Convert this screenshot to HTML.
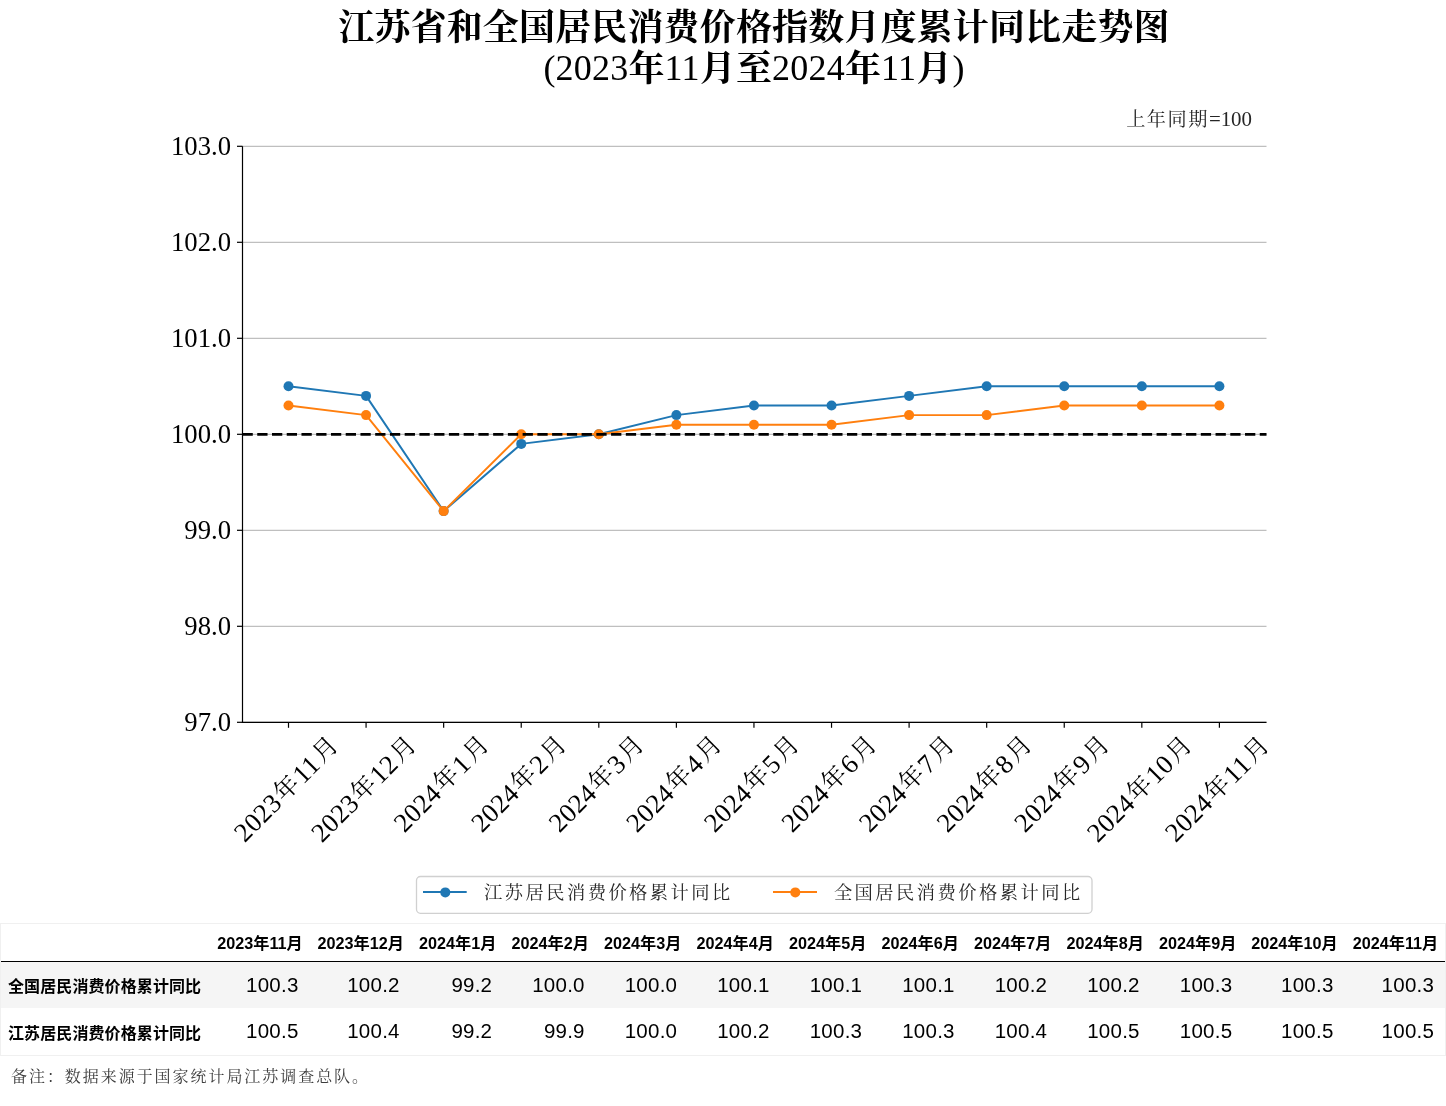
<!DOCTYPE html>
<html lang="zh-CN">
<head>
<meta charset="utf-8">
<title>江苏省和全国居民消费价格指数月度累计同比走势图</title>
<style>
html,body{margin:0;padding:0;background:#fff;}
body{width:1446px;height:1106px;position:relative;overflow:hidden;font-family:"Liberation Sans","Noto Sans CJK SC",sans-serif;}
.title{position:absolute;left:0;width:1508px;top:0;text-align:center;font-family:"Liberation Serif","Noto Serif CJK SC",serif;font-weight:bold;font-size:36px;line-height:41px;color:#000;white-space:nowrap;}
.title .l1{position:absolute;left:0;width:1508px;top:7.5px;letter-spacing:0.15px;}
.title .l2{position:absolute;left:0;width:1508px;top:49px;letter-spacing:0.2px;}
.title .l2 i{font-style:normal;font-weight:normal;position:relative;top:-1px;}
svg text{font-family:"Liberation Serif","Noto Serif CJK SC",serif;}
.tk{font-size:26.7px;fill:#000;}
.xl{font-size:26.7px;fill:#000;letter-spacing:0.3px;}
.ann{font-size:20.9px;fill:#262626;font-weight:400;}
.xl .cj{font-size:24.6px;letter-spacing:1.8px;}
.ann .cj{font-size:19.2px;letter-spacing:1.5px;}
.lg{font-size:18.3px;fill:#262626;letter-spacing:2.45px;font-weight:400;}
.tbl{position:absolute;left:0;top:923px;width:1446px;}
.row{display:flex;white-space:nowrap;box-sizing:border-box;}
.row>div{box-sizing:border-box;flex:none;text-align:right;}
.row.hd{height:39px;border-bottom:1px solid #000;font-size:16.2px;font-weight:bold;line-height:38px;padding-top:1px;}
.row.hd .h{padding-right:7.7px;}
.row.r1{height:46px;background:#f5f5f5;line-height:46px;}
.row.r2{height:47px;line-height:47px;}
.row .v{font-size:20.5px;letter-spacing:0.25px;padding-right:11.8px;}
.row.r2 .v{position:relative;top:-1.5px;}
.row.r1 .c0{position:relative;top:2px;}
.row.r2 .c0{position:relative;top:1.5px;}
.row.r1 .c0,.row.r2 .c0{text-align:left;font-size:16px;font-weight:bold;padding-left:8px;letter-spacing:0.1px;}
.frame{position:absolute;left:0;top:923px;width:1446px;height:133px;border:1px solid #f0f0f0;box-sizing:border-box;pointer-events:none;}
.note{position:absolute;left:11px;top:1063.7px;font-family:"Liberation Serif","Noto Serif CJK SC",serif;font-size:16px;letter-spacing:1.95px;color:#3c3c3c;font-weight:400;white-space:nowrap;}
</style>
</head>
<body>
<div class="title"><div class="l1">江苏省和全国居民消费价格指数月度累计同比走势图</div><div class="l2"><i>(2023</i>年<i>11</i>月至<i>2024</i>年<i>11</i>月<i>)</i></div></div>
<svg width="1446" height="920" viewBox="0 0 1446 920" style="position:absolute;left:0;top:0">
<line x1="242.5" x2="1266.5" y1="722.30" y2="722.30" stroke="#b0b0b0" stroke-width="1"/>
<line x1="242.5" x2="1266.5" y1="626.30" y2="626.30" stroke="#b0b0b0" stroke-width="1"/>
<line x1="242.5" x2="1266.5" y1="530.30" y2="530.30" stroke="#b0b0b0" stroke-width="1"/>
<line x1="242.5" x2="1266.5" y1="434.30" y2="434.30" stroke="#b0b0b0" stroke-width="1"/>
<line x1="242.5" x2="1266.5" y1="338.30" y2="338.30" stroke="#b0b0b0" stroke-width="1"/>
<line x1="242.5" x2="1266.5" y1="242.30" y2="242.30" stroke="#b0b0b0" stroke-width="1"/>
<line x1="242.5" x2="1266.5" y1="146.30" y2="146.30" stroke="#b0b0b0" stroke-width="1"/>
<polyline points="288.50,386.30 366.07,395.90 443.65,511.10 521.23,443.90 598.80,434.30 676.38,415.10 753.95,405.50 831.53,405.50 909.10,395.90 986.68,386.30 1064.25,386.30 1141.83,386.30 1219.40,386.30" fill="none" stroke="#1f77b4" stroke-width="1.95" stroke-linejoin="round"/><circle cx="288.50" cy="386.30" r="5" fill="#1f77b4"/><circle cx="366.07" cy="395.90" r="5" fill="#1f77b4"/><circle cx="443.65" cy="511.10" r="5" fill="#1f77b4"/><circle cx="521.23" cy="443.90" r="5" fill="#1f77b4"/><circle cx="598.80" cy="434.30" r="5" fill="#1f77b4"/><circle cx="676.38" cy="415.10" r="5" fill="#1f77b4"/><circle cx="753.95" cy="405.50" r="5" fill="#1f77b4"/><circle cx="831.53" cy="405.50" r="5" fill="#1f77b4"/><circle cx="909.10" cy="395.90" r="5" fill="#1f77b4"/><circle cx="986.68" cy="386.30" r="5" fill="#1f77b4"/><circle cx="1064.25" cy="386.30" r="5" fill="#1f77b4"/><circle cx="1141.83" cy="386.30" r="5" fill="#1f77b4"/><circle cx="1219.40" cy="386.30" r="5" fill="#1f77b4"/>
<polyline points="288.50,405.50 366.07,415.10 443.65,511.10 521.23,434.30 598.80,434.30 676.38,424.70 753.95,424.70 831.53,424.70 909.10,415.10 986.68,415.10 1064.25,405.50 1141.83,405.50 1219.40,405.50" fill="none" stroke="#ff7f0e" stroke-width="1.95" stroke-linejoin="round"/><circle cx="288.50" cy="405.50" r="5" fill="#ff7f0e"/><circle cx="366.07" cy="415.10" r="5" fill="#ff7f0e"/><circle cx="443.65" cy="511.10" r="5" fill="#ff7f0e"/><circle cx="521.23" cy="434.30" r="5" fill="#ff7f0e"/><circle cx="598.80" cy="434.30" r="5" fill="#ff7f0e"/><circle cx="676.38" cy="424.70" r="5" fill="#ff7f0e"/><circle cx="753.95" cy="424.70" r="5" fill="#ff7f0e"/><circle cx="831.53" cy="424.70" r="5" fill="#ff7f0e"/><circle cx="909.10" cy="415.10" r="5" fill="#ff7f0e"/><circle cx="986.68" cy="415.10" r="5" fill="#ff7f0e"/><circle cx="1064.25" cy="405.50" r="5" fill="#ff7f0e"/><circle cx="1141.83" cy="405.50" r="5" fill="#ff7f0e"/><circle cx="1219.40" cy="405.50" r="5" fill="#ff7f0e"/>
<line x1="242.5" x2="1266.5" y1="434.3" y2="434.3" stroke="#000" stroke-width="2.8" stroke-dasharray="10.29 4.453"/>
<line x1="242.5" x2="242.5" y1="146.30" y2="722.90" stroke="#000" stroke-width="1.2"/>
<line x1="241.9" x2="1266.5" y1="722.30" y2="722.30" stroke="#000" stroke-width="1.2"/>
<line x1="237.0" x2="242.5" y1="722.30" y2="722.30" stroke="#000" stroke-width="1.2"/>
<text x="231" y="731.05" text-anchor="end" class="tk">97.0</text>
<line x1="237.0" x2="242.5" y1="626.30" y2="626.30" stroke="#000" stroke-width="1.2"/>
<text x="231" y="635.05" text-anchor="end" class="tk">98.0</text>
<line x1="237.0" x2="242.5" y1="530.30" y2="530.30" stroke="#000" stroke-width="1.2"/>
<text x="231" y="539.05" text-anchor="end" class="tk">99.0</text>
<line x1="237.0" x2="242.5" y1="434.30" y2="434.30" stroke="#000" stroke-width="1.2"/>
<text x="231" y="443.05" text-anchor="end" class="tk">100.0</text>
<line x1="237.0" x2="242.5" y1="338.30" y2="338.30" stroke="#000" stroke-width="1.2"/>
<text x="231" y="347.05" text-anchor="end" class="tk">101.0</text>
<line x1="237.0" x2="242.5" y1="242.30" y2="242.30" stroke="#000" stroke-width="1.2"/>
<text x="231" y="251.05" text-anchor="end" class="tk">102.0</text>
<line x1="237.0" x2="242.5" y1="146.30" y2="146.30" stroke="#000" stroke-width="1.2"/>
<text x="231" y="155.05" text-anchor="end" class="tk">103.0</text>
<line x1="288.50" x2="288.50" y1="722.30" y2="727.80" stroke="#000" stroke-width="1.2"/>
<text transform="translate(286.90,788.4) rotate(-45)" text-anchor="middle" dominant-baseline="central" class="xl">2023<tspan class="cj" dx="1.6" dy="-1.2">年</tspan><tspan dy="1.2">11</tspan><tspan class="cj" dx="1.9" dy="-1.2">月</tspan></text>
<line x1="366.07" x2="366.07" y1="722.30" y2="727.80" stroke="#000" stroke-width="1.2"/>
<text transform="translate(364.47,788.4) rotate(-45)" text-anchor="middle" dominant-baseline="central" class="xl">2023<tspan class="cj" dx="1.6" dy="-1.2">年</tspan><tspan dy="1.2">12</tspan><tspan class="cj" dx="1.9" dy="-1.2">月</tspan></text>
<line x1="443.65" x2="443.65" y1="722.30" y2="727.80" stroke="#000" stroke-width="1.2"/>
<text transform="translate(442.05,783.2) rotate(-45)" text-anchor="middle" dominant-baseline="central" class="xl">2024<tspan class="cj" dx="1.6" dy="-1.2">年</tspan><tspan dy="1.2">1</tspan><tspan class="cj" dx="1.9" dy="-1.2">月</tspan></text>
<line x1="521.23" x2="521.23" y1="722.30" y2="727.80" stroke="#000" stroke-width="1.2"/>
<text transform="translate(519.62,783.2) rotate(-45)" text-anchor="middle" dominant-baseline="central" class="xl">2024<tspan class="cj" dx="1.6" dy="-1.2">年</tspan><tspan dy="1.2">2</tspan><tspan class="cj" dx="1.9" dy="-1.2">月</tspan></text>
<line x1="598.80" x2="598.80" y1="722.30" y2="727.80" stroke="#000" stroke-width="1.2"/>
<text transform="translate(597.20,783.2) rotate(-45)" text-anchor="middle" dominant-baseline="central" class="xl">2024<tspan class="cj" dx="1.6" dy="-1.2">年</tspan><tspan dy="1.2">3</tspan><tspan class="cj" dx="1.9" dy="-1.2">月</tspan></text>
<line x1="676.38" x2="676.38" y1="722.30" y2="727.80" stroke="#000" stroke-width="1.2"/>
<text transform="translate(674.77,783.2) rotate(-45)" text-anchor="middle" dominant-baseline="central" class="xl">2024<tspan class="cj" dx="1.6" dy="-1.2">年</tspan><tspan dy="1.2">4</tspan><tspan class="cj" dx="1.9" dy="-1.2">月</tspan></text>
<line x1="753.95" x2="753.95" y1="722.30" y2="727.80" stroke="#000" stroke-width="1.2"/>
<text transform="translate(752.35,783.2) rotate(-45)" text-anchor="middle" dominant-baseline="central" class="xl">2024<tspan class="cj" dx="1.6" dy="-1.2">年</tspan><tspan dy="1.2">5</tspan><tspan class="cj" dx="1.9" dy="-1.2">月</tspan></text>
<line x1="831.53" x2="831.53" y1="722.30" y2="727.80" stroke="#000" stroke-width="1.2"/>
<text transform="translate(829.93,783.2) rotate(-45)" text-anchor="middle" dominant-baseline="central" class="xl">2024<tspan class="cj" dx="1.6" dy="-1.2">年</tspan><tspan dy="1.2">6</tspan><tspan class="cj" dx="1.9" dy="-1.2">月</tspan></text>
<line x1="909.10" x2="909.10" y1="722.30" y2="727.80" stroke="#000" stroke-width="1.2"/>
<text transform="translate(907.50,783.2) rotate(-45)" text-anchor="middle" dominant-baseline="central" class="xl">2024<tspan class="cj" dx="1.6" dy="-1.2">年</tspan><tspan dy="1.2">7</tspan><tspan class="cj" dx="1.9" dy="-1.2">月</tspan></text>
<line x1="986.68" x2="986.68" y1="722.30" y2="727.80" stroke="#000" stroke-width="1.2"/>
<text transform="translate(985.08,783.2) rotate(-45)" text-anchor="middle" dominant-baseline="central" class="xl">2024<tspan class="cj" dx="1.6" dy="-1.2">年</tspan><tspan dy="1.2">8</tspan><tspan class="cj" dx="1.9" dy="-1.2">月</tspan></text>
<line x1="1064.25" x2="1064.25" y1="722.30" y2="727.80" stroke="#000" stroke-width="1.2"/>
<text transform="translate(1062.65,783.2) rotate(-45)" text-anchor="middle" dominant-baseline="central" class="xl">2024<tspan class="cj" dx="1.6" dy="-1.2">年</tspan><tspan dy="1.2">9</tspan><tspan class="cj" dx="1.9" dy="-1.2">月</tspan></text>
<line x1="1141.83" x2="1141.83" y1="722.30" y2="727.80" stroke="#000" stroke-width="1.2"/>
<text transform="translate(1140.23,788.4) rotate(-45)" text-anchor="middle" dominant-baseline="central" class="xl">2024<tspan class="cj" dx="1.6" dy="-1.2">年</tspan><tspan dy="1.2">10</tspan><tspan class="cj" dx="1.9" dy="-1.2">月</tspan></text>
<line x1="1219.40" x2="1219.40" y1="722.30" y2="727.80" stroke="#000" stroke-width="1.2"/>
<text transform="translate(1217.80,788.4) rotate(-45)" text-anchor="middle" dominant-baseline="central" class="xl">2024<tspan class="cj" dx="1.6" dy="-1.2">年</tspan><tspan dy="1.2">11</tspan><tspan class="cj" dx="1.9" dy="-1.2">月</tspan></text>
<text x="1252" y="126" text-anchor="end" class="ann"><tspan class="cj">上年同期</tspan>=100</text>
<rect x="416.5" y="876.5" width="675.5" height="36.8" rx="4" ry="4" fill="#fff" stroke="#d0d0d0" stroke-width="1.3"/>
<line x1="423" x2="466.7" y1="892" y2="892" stroke="#1f77b4" stroke-width="2.1"/><circle cx="445.3" cy="892.4" r="5" fill="#1f77b4"/>
<text x="484.0" y="899.2" class="lg">江苏居民消费价格累计同比</text>
<line x1="773" x2="817" y1="892" y2="892" stroke="#ff7f0e" stroke-width="2.1"/><circle cx="795.3" cy="892.4" r="5" fill="#ff7f0e"/>
<text x="833.9" y="899.2" class="lg">全国居民消费价格累计同比</text>
</svg>
<div class="tbl">
<div class="row hd"><div class="c0" style="width:209.8px"></div><div class="h" style="width:100.6px">2023年11月</div><div class="h" style="width:101.2px">2023年12月</div><div class="h" style="width:92.5px">2024年1月</div><div class="h" style="width:92.5px">2024年2月</div><div class="h" style="width:92.5px">2024年3月</div><div class="h" style="width:92.5px">2024年4月</div><div class="h" style="width:92.5px">2024年5月</div><div class="h" style="width:92.5px">2024年6月</div><div class="h" style="width:92.5px">2024年7月</div><div class="h" style="width:92.5px">2024年8月</div><div class="h" style="width:92.6px">2024年9月</div><div class="h" style="width:101.2px">2024年10月</div><div class="h" style="width:100.6px">2024年11月</div></div>
<div class="row r1"><div class="c0" style="width:209.8px">全国居民消费价格累计同比</div><div class="v" style="width:100.6px">100.3</div><div class="v" style="width:101.2px">100.2</div><div class="v" style="width:92.5px">99.2</div><div class="v" style="width:92.5px">100.0</div><div class="v" style="width:92.5px">100.0</div><div class="v" style="width:92.5px">100.1</div><div class="v" style="width:92.5px">100.1</div><div class="v" style="width:92.5px">100.1</div><div class="v" style="width:92.5px">100.2</div><div class="v" style="width:92.5px">100.2</div><div class="v" style="width:92.6px">100.3</div><div class="v" style="width:101.2px">100.3</div><div class="v" style="width:100.6px">100.3</div></div>
<div class="row r2"><div class="c0" style="width:209.8px">江苏居民消费价格累计同比</div><div class="v" style="width:100.6px">100.5</div><div class="v" style="width:101.2px">100.4</div><div class="v" style="width:92.5px">99.2</div><div class="v" style="width:92.5px">99.9</div><div class="v" style="width:92.5px">100.0</div><div class="v" style="width:92.5px">100.2</div><div class="v" style="width:92.5px">100.3</div><div class="v" style="width:92.5px">100.3</div><div class="v" style="width:92.5px">100.4</div><div class="v" style="width:92.5px">100.5</div><div class="v" style="width:92.6px">100.5</div><div class="v" style="width:101.2px">100.5</div><div class="v" style="width:100.6px">100.5</div></div>
</div>
<div class="frame"></div>
<div class="note">备注：数据来源于国家统计局江苏调查总队。</div>
</body>
</html>
